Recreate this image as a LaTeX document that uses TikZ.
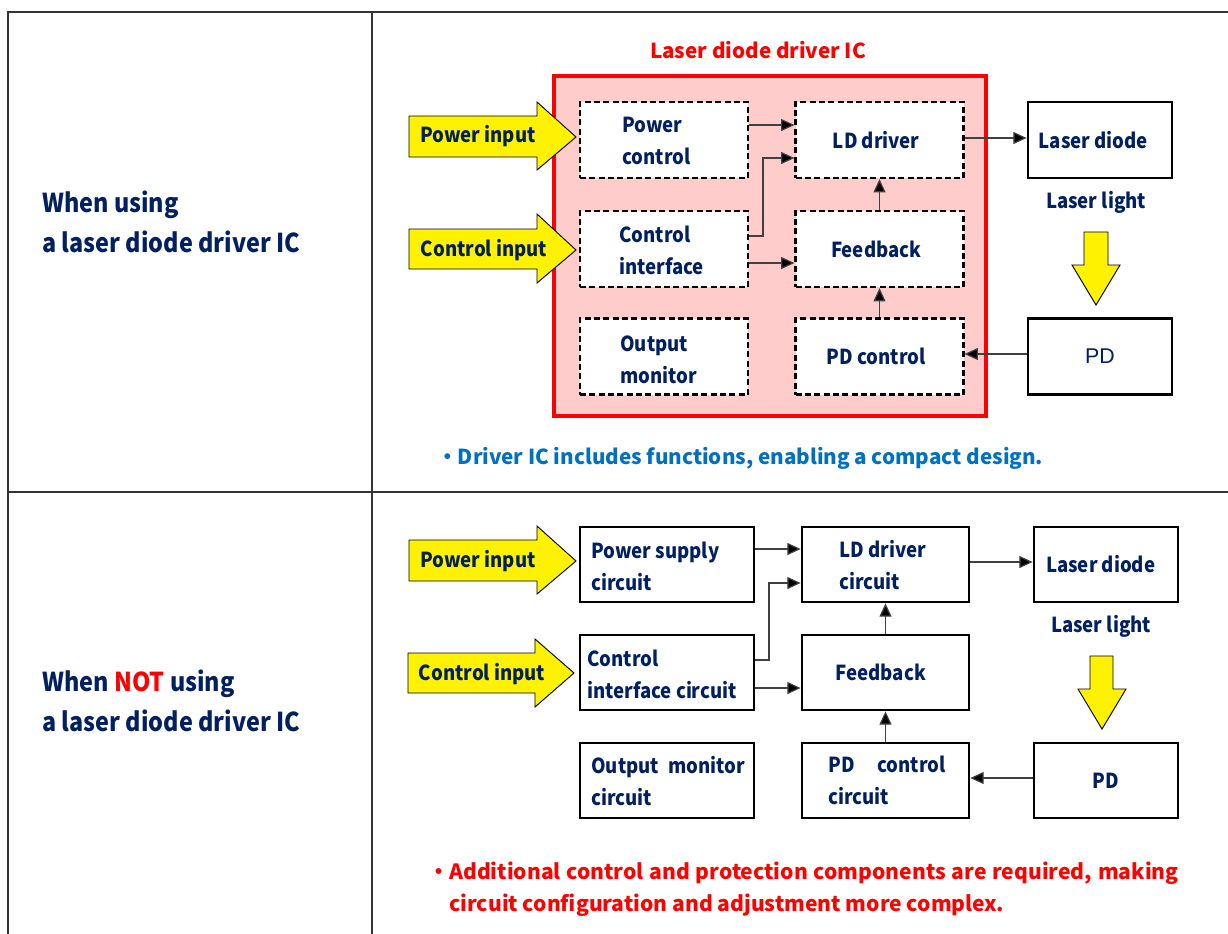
\documentclass[tikz,border=0pt]{standalone}
\usepackage{fontspec}
\setmainfont{Noto Sans CJK JP}
\newfontfamily\condf{Noto Sans CJK JP}[FakeStretch=0.9]
\newfontfamily\pdfont{Liberation Sans}
\usetikzlibrary{arrows.meta,calc}
\definecolor{navy}{HTML}{002060}
\definecolor{ablue}{HTML}{0070C0}
\definecolor{pinkfill}{HTML}{FFCCCC}
\definecolor{tline}{HTML}{333333}
\definecolor{cline}{HTML}{404040}
\tikzset{
  txt/.style={font=\condf\fontsize{15.5}{24}\selectfont\bfseries, text=navy, inner sep=0pt, align=left},
  bigtxt/.style={font=\condf\fontsize{19.5}{30}\selectfont\bfseries, text=navy, inner sep=0pt, align=left},
  dbox/.style={draw=black, fill=white, line width=1.6pt, dash pattern=on 4.5pt off 2.5pt, minimum width=126pt, minimum height=57pt, inner sep=0pt, txt},
  sbox/.style={draw=black, fill=white, line width=2pt, inner sep=0pt, txt},
  conn/.style={draw=cline, line width=0.9pt, -{Triangle[length=10pt,width=9pt,fill=black]}},
  yarr/.style={draw=black, fill=yellow, line width=0.7pt, line join=miter},
  tableline/.style={draw=tline, line width=1.2pt}
}
\begin{document}
\begin{tikzpicture}[x=0.75pt,y=-0.75pt]
\useasboundingbox (0,0) rectangle (1228,933);
\clip (0,0) rectangle (1228,933);
% table
\draw[tableline] (1240,12) -- (8,12) -- (8,950);
\draw[tableline] (372,12) -- (372,950);
\draw[tableline] (8,492) -- (1240,492);

% left labels
\node[bigtxt, anchor=west] (lab1) at (42,222) {When using\\a laser diode driver IC};
\node[bigtxt, anchor=west] (lab2) at (42,701) {When {\color{red}NOT} using\\a laser diode driver IC};

% ===== top section =====
\node[font=\fontsize{15.5}{24}\selectfont\bfseries, text=red, inner sep=0pt] (title) at (758,50) {Laser diode driver IC};
\draw[draw=red, fill=pinkfill, line width=2.3pt] (554,76) rectangle (986,416);

\node[dbox] (pc) at (664,140) {};
\node[dbox] (ci) at (664,249) {};
\node[dbox] (om) at (664,356.5) {};
\node[dbox] (ld) at (879.5,140) {LD driver\hspace*{5pt}};
\node[dbox] (fb) at (879.5,249) {Feedback\hspace*{5pt}};
\node[dbox] (pdc) at (879.5,356.5) {PD control\hspace*{5pt}};
\node[txt, anchor=west] (pct) at (622,141) {Power\\control};
\node[txt, anchor=west] (cit) at (619,250) {Control\\interface};
\node[txt, anchor=west] (omt) at (620,360) {Output\\monitor};

\node[sbox, minimum width=108pt, minimum height=57pt] (lds) at (1100,140) {Laser diode\hspace*{10pt}};
\node[sbox, minimum width=108pt, minimum height=57pt, font=\pdfont\fontsize{16}{20}\selectfont\mdseries] (pd) at (1100,356.5) {PD};
\node[txt] (ll) at (1096,202) {Laser light};

% yellow arrows top
\draw[yarr] (409,116) -- (537,116) -- (537,102) -- (576,137) -- (537,170) -- (537,157) -- (409,157) -- cycle;
\node[txt] (pin) at (478,136) {Power input};
\draw[yarr] (409,229) -- (537,229) -- (537,214) -- (576,250) -- (537,283) -- (537,269) -- (409,269) -- cycle;
\node[txt] (cin) at (484,250) {Control input};
\draw[yarr] (1084,232) -- (1108,232) -- (1108,265) -- (1120,265) -- (1096,305) -- (1072,265) -- (1084,265) -- cycle;

% connectors top
\draw[conn] (pc.east |- 0,125) -- (ld.west |- 0,125);
\draw[conn] (ci.east |- 0,236) -- (763,236) -- (763,158) -- (ld.west |- 0,158);
\draw[conn] (ci.east |- 0,263) -- (fb.west |- 0,263);
\draw[conn] (fb.north) -- (ld.south);
\draw[conn] (pdc.north) -- (fb.south);
\draw[conn] (ld.east |- 0,138) -- (lds.west |- 0,138);
\draw[conn] (pd.west |- 0,354) -- (pdc.east |- 0,354);

\node[font=\fontsize{15.5}{24}\selectfont\bfseries, text=ablue, inner sep=0pt, anchor=west] (note1) at (437,458) {・Driver IC includes functions, enabling a compact design.};

% ===== bottom section =====
\tikzset{bbox/.style={sbox, minimum height=56.25pt}}
\node[bbox, minimum width=130.5pt] (psc) at (667,564.5) {};
\node[bbox, minimum width=130.5pt] (cic) at (667,672.5) {};
\node[bbox, minimum width=130.5pt] (omc) at (667,780.5) {};
\node[bbox, minimum width=125.25pt] (ldc) at (885.5,564.5) {};
\node[bbox, minimum width=125.25pt] (fb2) at (885.5,672.5) {Feedback\hspace*{7pt}};
\node[bbox, minimum width=125.25pt] (pdc2) at (885.5,780.5) {};
\node[bbox, minimum width=108pt] (ld2) at (1106,564.5) {Laser diode\hspace*{8pt}};
\node[bbox, minimum width=108pt] (pd2) at (1106,780.5) {PD};
\node[txt, anchor=west] (psct) at (591,566) {Power supply\\circuit};
\node[txt, anchor=west] (cict) at (587,674) {Control\\interface circuit};
\node[txt, anchor=west] (omct) at (591,781) {Output\hspace{0.45em}monitor\\circuit};
\node[txt, anchor=west] (ldct) at (839,565) {LD driver\\circuit};
\node[txt, anchor=west] (pdct) at (828,780) {PD\hspace{1.1em}control\\circuit};
\node[txt] (ll2) at (1101,626) {Laser light};

\draw[yarr] (409,540) -- (537,540) -- (537,526) -- (576,561) -- (537,594) -- (537,581) -- (409,581) -- cycle;
\node[txt] (pin2) at (478,561) {Power input};
\draw[yarr] (408,653) -- (535,653) -- (535,639) -- (574,673) -- (535,707) -- (535,693) -- (408,693) -- cycle;
\node[txt] (cin2) at (482,674) {Control input};
\draw[yarr] (1090,656) -- (1113,656) -- (1113,689) -- (1126,689) -- (1102,729) -- (1078,689) -- (1090,689) -- cycle;

\draw[conn] (psc.east |- 0,549) -- (ldc.west |- 0,549);
\draw[conn] (cic.east |- 0,660) -- (769,660) -- (769,583) -- (ldc.west |- 0,583);
\draw[conn] (cic.east |- 0,688) -- (fb2.west |- 0,688);
\draw[conn] (fb2.north) -- (ldc.south);
\draw[conn] (pdc2.north) -- (fb2.south);
\draw[conn] (ldc.east |- 0,562) -- (ld2.west |- 0,562);
\draw[conn] (pd2.west |- 0,778) -- (pdc2.east |- 0,778);

\node[font=\fontsize{15.8}{24}\selectfont\bfseries, text=red, inner sep=0pt, anchor=west, align=left] (note2) at (428,889) {・\makebox[547pt][s]{Additional control and protection components are required, making}\\\hspace*{1em}circuit configuration and adjustment more complex.};
\end{tikzpicture}
\end{document}
